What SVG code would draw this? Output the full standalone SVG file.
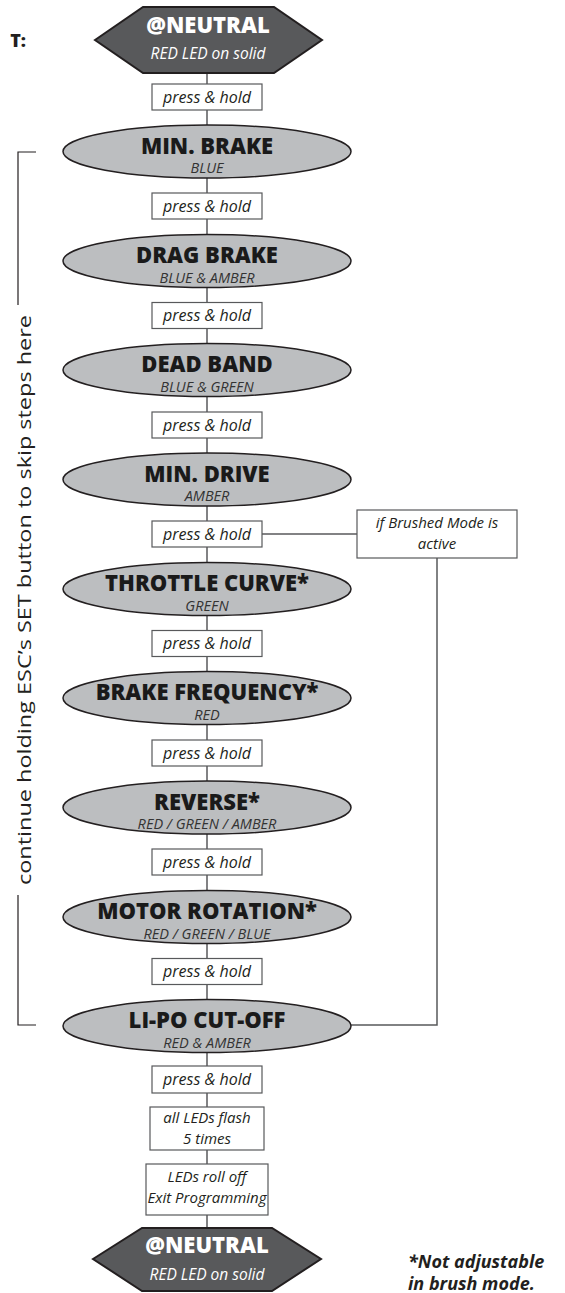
<svg xmlns="http://www.w3.org/2000/svg" width="565" height="1293" viewBox="0 0 565 1293">
<style>
text{font-family:"Open Sans","Liberation Sans",sans-serif;text-anchor:middle;}
.bg{fill:#ffffff;}
.hex{fill:#58595b;stroke:#231f20;stroke-width:2;}
.hexT{fill:#ffffff;font-weight:900;font-size:22px;}
.hexS{fill:#ffffff;font-style:italic;font-weight:normal;font-size:15.5px;}
.ell{fill:#bcbec0;stroke:#231f20;stroke-width:1.5;}
.t{fill:#1a1a1a;font-weight:900;font-size:22px;}
.s{fill:#333333;font-style:italic;font-weight:normal;font-size:14.5px;}
.box{fill:#ffffff;stroke:#58595b;stroke-width:1.2;}
.bt{fill:#231f20;font-style:italic;font-size:16px;}
.bt2{fill:#231f20;font-style:italic;font-size:15px;}
.ln{fill:none;stroke:#58595b;stroke-width:1.5;}
.br{fill:none;stroke:#231f20;stroke-width:1.2;}
</style>
<rect class="bg" x="0" y="0" width="565" height="1293"/>

<g id="connectors">
<line class="ln" x1="207" y1="73" x2="207" y2="125"/>
<line class="ln" x1="207" y1="178" x2="207" y2="234"/>
<line class="ln" x1="207" y1="287" x2="207" y2="344"/>
<line class="ln" x1="207" y1="396" x2="207" y2="453"/>
<line class="ln" x1="207" y1="506" x2="207" y2="562"/>
<line class="ln" x1="207" y1="615" x2="207" y2="672"/>
<line class="ln" x1="207" y1="724" x2="207" y2="781"/>
<line class="ln" x1="207" y1="834" x2="207" y2="890"/>
<line class="ln" x1="207" y1="943" x2="207" y2="1000"/>
<line class="ln" x1="207" y1="1052" x2="207" y2="1107"/>
<line class="ln" x1="207" y1="1150" x2="207" y2="1164"/>
<line class="ln" x1="207" y1="1215" x2="207" y2="1228"/>
<line class="ln" x1="262" y1="534" x2="357" y2="534"/>
<polyline class="ln" points="437,558 437,1025 351,1025"/>
</g>

<g id="bracket">
<polyline class="br" points="36,152 18,152 18,305"/>
<polyline class="br" points="18,895 18,1025 36,1025"/>
<text transform="translate(31,600) rotate(-90)" style="fill:#231f20;font-size:18px;" textLength="570" lengthAdjust="spacingAndGlyphs">continue holding ESC’s SET button to skip steps here</text>
</g>

<text x="26" y="47" style="fill:#231f20;font-weight:900;font-size:18px;text-anchor:end;">T:</text>

<g id="neutral-top">
<polygon class="hex" points="95,40 143,7 274,7 322,40 274,73 143,73"/>
<text><tspan class="hexT" x="208" y="33">@NEUTRAL</tspan><tspan class="hexS" x="208" y="59">RED LED on solid</tspan></text>
</g>

<g id="ph1"><rect class="box" x="152" y="84" width="110" height="26"/><text class="bt" x="207" y="102.5">press &amp; hold</text></g>

<g id="min-brake"><ellipse class="ell" cx="207" cy="151.5" rx="144" ry="26.5"/><text><tspan class="t" x="207" y="153.5">MIN. BRAKE</tspan><tspan class="s" x="207" y="173">BLUE</tspan></text></g>

<g id="ph2"><rect class="box" x="152" y="193" width="110" height="26"/><text class="bt" x="207" y="211.5">press &amp; hold</text></g>

<g id="drag-brake"><ellipse class="ell" cx="207" cy="261" rx="144" ry="26.5"/><text><tspan class="t" x="207" y="263">DRAG BRAKE</tspan><tspan class="s" x="207" y="282.5">BLUE &amp; AMBER</tspan></text></g>

<g id="ph3"><rect class="box" x="152" y="302.5" width="110" height="26"/><text class="bt" x="207" y="321">press &amp; hold</text></g>

<g id="dead-band"><ellipse class="ell" cx="207" cy="370" rx="144" ry="26.5"/><text><tspan class="t" x="207" y="372">DEAD BAND</tspan><tspan class="s" x="207" y="391.5">BLUE &amp; GREEN</tspan></text></g>

<g id="ph4"><rect class="box" x="152" y="412" width="110" height="26"/><text class="bt" x="207" y="430.5">press &amp; hold</text></g>

<g id="min-drive"><ellipse class="ell" cx="207" cy="479.5" rx="144" ry="26.5"/><text><tspan class="t" x="207" y="481.5">MIN. DRIVE</tspan><tspan class="s" x="207" y="501">AMBER</tspan></text></g>

<g id="ph5"><rect class="box" x="152" y="521" width="110" height="26"/><text class="bt" x="207" y="539.5">press &amp; hold</text></g>

<g id="brushed"><rect class="box" x="357" y="510" width="160" height="48"/><text class="bt2" x="437" y="528">if Brushed Mode is</text><text class="bt2" x="437" y="549">active</text></g>

<g id="throttle-curve"><ellipse class="ell" cx="207" cy="589" rx="144" ry="26.5"/><text><tspan class="t" x="207" y="591">THROTTLE CURVE*</tspan><tspan class="s" x="207" y="610.5">GREEN</tspan></text></g>

<g id="ph6"><rect class="box" x="152" y="630.5" width="110" height="26"/><text class="bt" x="207" y="649">press &amp; hold</text></g>

<g id="brake-frequency"><ellipse class="ell" cx="207" cy="698" rx="144" ry="26.5"/><text><tspan class="t" x="207" y="700">BRAKE FREQUENCY*</tspan><tspan class="s" x="207" y="719.5">RED</tspan></text></g>

<g id="ph7"><rect class="box" x="152" y="740" width="110" height="26"/><text class="bt" x="207" y="758.5">press &amp; hold</text></g>

<g id="reverse"><ellipse class="ell" cx="207" cy="807.5" rx="144" ry="26.5"/><text><tspan class="t" x="207" y="809.5">REVERSE*</tspan><tspan class="s" x="207" y="829">RED / GREEN / AMBER</tspan></text></g>

<g id="ph8"><rect class="box" x="152" y="849" width="110" height="26"/><text class="bt" x="207" y="867.5">press &amp; hold</text></g>

<g id="motor-rotation"><ellipse class="ell" cx="207" cy="917" rx="144" ry="26.5"/><text><tspan class="t" x="207" y="919">MOTOR ROTATION*</tspan><tspan class="s" x="207" y="938.5">RED / GREEN / BLUE</tspan></text></g>

<g id="ph9"><rect class="box" x="152" y="958.5" width="110" height="26"/><text class="bt" x="207" y="977">press &amp; hold</text></g>

<g id="lipo-cutoff"><ellipse class="ell" cx="207" cy="1026" rx="144" ry="26.5"/><text><tspan class="t" x="207" y="1028">LI-PO CUT-OFF</tspan><tspan class="s" x="207" y="1047.5">RED &amp; AMBER</tspan></text></g>

<g id="ph10"><rect class="box" x="152" y="1066" width="110" height="27"/><text class="bt" x="207" y="1085">press &amp; hold</text></g>

<g id="flash"><rect class="box" x="150" y="1107" width="114" height="43"/><text class="bt2" x="207" y="1123">all LEDs flash</text><text class="bt2" x="207" y="1144">5 times</text></g>

<g id="roll-off"><rect class="box" x="146" y="1164" width="122" height="51"/><text class="bt2" x="207" y="1182">LEDs roll off</text><text class="bt2" x="207" y="1203">Exit Programming</text></g>

<g id="neutral-bottom">
<polygon class="hex" points="93,1259 142,1228 272,1228 321,1259 272,1291 142,1291"/>
<text><tspan class="hexT" x="207" y="1253">@NEUTRAL</tspan><tspan class="hexS" x="207" y="1280">RED LED on solid</tspan></text>
</g>

<g id="note">
<text style="fill:#231f20;font-weight:bold;font-style:italic;font-size:18px;text-anchor:start;"><tspan x="408" y="1268">*Not adjustable</tspan><tspan x="408" y="1290">in brush mode.</tspan></text>
</g>
</svg>
